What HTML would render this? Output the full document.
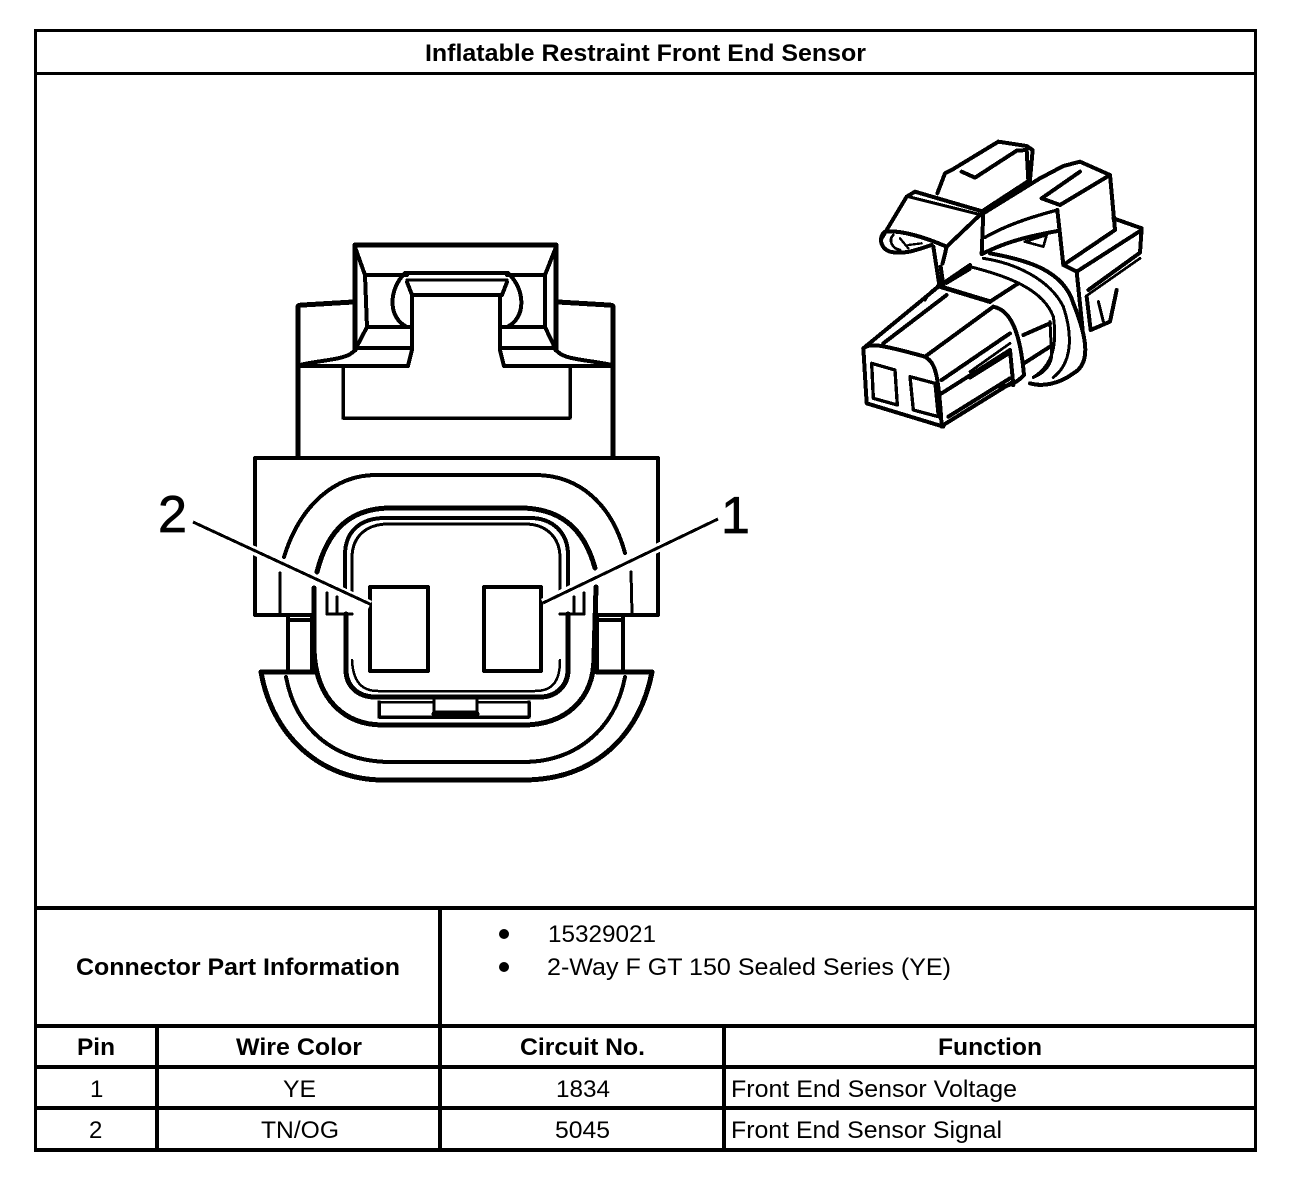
<!DOCTYPE html>
<html>
<head>
<meta charset="utf-8">
<style>
html,body{margin:0;padding:0;background:#fff}
svg{display:block}
text{font-family:"Liberation Sans",Arial,sans-serif;fill:#000}
.b{font-weight:bold;font-size:24px}
.r{font-size:24px}
</style>
</head>
<body>
<svg width="1312" height="1182" viewBox="0 0 1312 1182" xmlns="http://www.w3.org/2000/svg">
<rect width="1312" height="1182" fill="#fff"/>

<!-- table frame -->
<g fill="#000">
<rect x="34" y="29" width="1223" height="3"/>
<rect x="34" y="29" width="3" height="1123"/>
<rect x="1254" y="29" width="3" height="1123"/>
<rect x="34" y="72" width="1223" height="3"/>
<rect x="34" y="906" width="1223" height="4"/>
<rect x="34" y="1024" width="1223" height="4"/>
<rect x="34" y="1065" width="1223" height="4"/>
<rect x="34" y="1106" width="1223" height="4"/>
<rect x="34" y="1148" width="1223" height="4"/>
<rect x="155" y="1026" width="4" height="124"/>
<rect x="438" y="908" width="4" height="242"/>
<rect x="722" y="1026" width="4" height="124"/>
<circle cx="504" cy="934" r="5"/>
<circle cx="504" cy="967" r="5"/>
</g>

<!-- table text -->
<text class="b" x="425" y="61" textLength="441" lengthAdjust="spacingAndGlyphs">Inflatable Restraint Front End Sensor</text>
<text class="b" x="76" y="975" textLength="324" lengthAdjust="spacingAndGlyphs">Connector Part Information</text>
<text class="r" x="548" y="942" textLength="108" lengthAdjust="spacingAndGlyphs">15329021</text>
<text class="r" x="547" y="975" textLength="404" lengthAdjust="spacingAndGlyphs">2-Way F GT 150 Sealed Series (YE)</text>
<text class="b" x="77" y="1055" textLength="38" lengthAdjust="spacingAndGlyphs">Pin</text>
<text class="b" x="236" y="1055" textLength="126" lengthAdjust="spacingAndGlyphs">Wire Color</text>
<text class="b" x="520" y="1055" textLength="125" lengthAdjust="spacingAndGlyphs">Circuit No.</text>
<text class="b" x="938" y="1055" textLength="104" lengthAdjust="spacingAndGlyphs">Function</text>
<text class="r" x="90" y="1097">1</text>
<text class="r" x="283" y="1097" textLength="33" lengthAdjust="spacingAndGlyphs">YE</text>
<text class="r" x="556" y="1097" textLength="54" lengthAdjust="spacingAndGlyphs">1834</text>
<text class="r" x="731" y="1097" textLength="286" lengthAdjust="spacingAndGlyphs">Front End Sensor Voltage</text>
<text class="r" x="89" y="1138">2</text>
<text class="r" x="261" y="1138" textLength="78" lengthAdjust="spacingAndGlyphs">TN/OG</text>
<text class="r" x="555" y="1138" textLength="55" lengthAdjust="spacingAndGlyphs">5045</text>
<text class="r" x="731" y="1138" textLength="271" lengthAdjust="spacingAndGlyphs">Front End Sensor Signal</text>

<!-- main connector: upper latch -->
<g fill="none" stroke="#000" stroke-width="4" stroke-linejoin="round" stroke-linecap="round" shape-rendering="crispEdges">
<path d="M355,350 L355,245 L556,245 L556,350" stroke-width="5"/>
<path d="M298,455 L298,307 Q298,305 303,305 L353,302" stroke-width="5"/>
<path d="M613,455 L613,307 Q613,305 608,305 L558,302" stroke-width="5"/>
<path d="M355,247 L365,275 L367,327 L355,350"/>
<path d="M556,247 L545,275 L545,327 L556,350"/>
<path d="M367,275 L407,275 M507,275 L545,275"/>
<path d="M405,273 L508,273"/>
<path d="M407,280 L507,280" stroke-width="3"/>
<path d="M407,282 L412,295 L502,295 L507,282" stroke-width="4"/>
<path d="M412,295 L412,350 L408,366 L300,366"/>
<path d="M500,295 L500,350 L504,366 L613,366"/>
<path d="M405,273 C388,290 388,318 407,327"/>
<path d="M508,273 C526,290 526,318 507,327"/>
<path d="M367,327 L410,327 M503,327 L545,327"/>
<path d="M355,348 L410,348 M503,348 L556,348"/>
<path d="M353,352 C345,360 320,360 300,365"/>
<path d="M558,352 C566,360 590,360 612,365"/>
<path d="M343,366 L343,418 L570,418 L570,366" stroke-width="3.5"/>

<!-- main connector: body -->
<path d="M255,458 L658,458" stroke-width="4"/>
<path d="M255,458 L255,615 L312,615" stroke-width="4"/>
<path d="M658,458 L658,615 L597,615" stroke-width="4"/>

<path d="M284,557 C300,505 335,475 376,475 L535,475 C580,475 612,505 625,553" stroke-width="4"/>
<path d="M280,573 L280,613 M631,572 L632,613" stroke-width="3"/>
<path d="M317,572 C328,528 352,508 391,508 L520,508 C560,508 584,528 595,568" stroke-width="5"/>
<path d="M314,588 L314,650 C316,700 345,725 383,725 L523,725 C565,725 594,700 594,657 L596,587" stroke-width="5"/>

<!-- seal -->
<path d="M345,592 L345,555 C345,530 362,518 385,518 L530,518 C552,518 568,532 568,555 L568,592" stroke-width="4"/>
<path d="M352,592 L352,558 C352,535 368,524 388,524 L525,524 C546,524 560,537 560,558 L560,592" stroke-width="3"/>
<path d="M346,614 L346,670 C346,686 358,697 375,697 L540,697 C556,697 568,686 568,670 L568,614" stroke-width="5"/>
<path d="M352,660 C353,682 362,691 378,691 L535,691 C552,691 560,682 560,660" stroke-width="2.5"/>

<!-- notches -->
<path d="M327,593 L327,614 L352,614 M337,597 L337,612" stroke-width="3"/>
<path d="M584,593 L584,614 L560,614 M574,597 L574,612" stroke-width="3"/>

<!-- legs -->
<path d="M288,617 L288,671 M312,617 L312,671 M290,620 L312,620" stroke-width="4"/>
<path d="M597,617 L597,671 M623,617 L623,671 M597,620 L623,620" stroke-width="4"/>
<path d="M261,672 L314,672 M597,672 L652,672" stroke-width="5"/>

<!-- bottom shell -->
<path d="M261,672 C272,735 320,780 383,780 L523,780 C595,780 640,735 652,672" stroke-width="5"/>
<path d="M286,677 C296,730 335,762 391,762 L523,762 C575,762 615,730 625,677" stroke-width="4"/>

<!-- key -->
<path d="M379,702 L379,717 L529,717 L529,702" stroke-width="3.5"/>
<path d="M379,702 L434,702 M477,702 L529,702" stroke-width="2.5"/>
<path d="M434,698 L434,712 L477,712 L477,698" stroke-width="3"/>
<path d="M434,714 L477,714" stroke-width="5"/>

<!-- pins -->
<rect x="370" y="587" width="58" height="84" fill="#fff" stroke-width="4"/>
<rect x="484" y="587" width="57" height="84" fill="#fff" stroke-width="4"/>
</g>

<!-- leaders -->
<g fill="none" stroke-linecap="butt" shape-rendering="crispEdges">
<path d="M193,522 L370,605 M718,519 L543,603" stroke="#fff" stroke-width="9"/>
<path d="M193,522 L372,605 M718,519 L543,603" stroke="#000" stroke-width="3"/>
</g>
<rect x="372" y="589" width="54" height="80" fill="#fff"/>
<rect x="486" y="589" width="53" height="80" fill="#fff"/>
<text x="158" y="532" font-size="52" textLength="29" lengthAdjust="spacingAndGlyphs" stroke="#000" stroke-width="0.7">2</text>
<text x="721" y="533" font-size="52" stroke="#000" stroke-width="0.7">1</text>

<!-- isometric connector -->
<g transform="translate(850,130) scale(0.33333)" fill="none" stroke="#000" stroke-width="12" stroke-linejoin="round" stroke-linecap="round" shape-rendering="crispEdges">
<path d="M262,190 L285,130 L305,120 L445,35 L530,48 L548,60 L540,150 L402,240"/>
<path d="M335,125 L375,143 L500,62 L530,60"/>
<path d="M530,60 L535,150"/>
<path d="M95,325 L170,200 L195,185 L400,245 L290,350 L278,400"/>
<path d="M175,200 L395,255" stroke-width="9"/>
<path d="M105,305 C150,300 220,320 290,350"/>
<path d="M105,305 C85,320 90,355 120,365 C160,375 200,360 245,345"/>
<path d="M130,315 C115,330 125,355 150,360" stroke-width="8"/>
<path d="M150,325 L175,355 M175,345 L215,340" stroke-width="7"/>
<path d="M400,245 L395,372"/>
<path d="M250,350 L268,465 M272,410 L280,465"/>
<path d="M400,250 L570,145 L640,108 L690,95 L780,135 L795,300 L640,405 L622,240"/>
<path d="M575,205 L690,125 M575,205 L630,225 L780,135"/>
<path d="M405,322 C470,285 540,262 622,240" stroke-width="10"/>
<path d="M400,370 C470,335 530,320 628,302"/>
<path d="M525,335 L590,315 L580,350 Z" stroke-width="8"/>
<path d="M790,265 L875,295 L870,368 L715,480"/>
<path d="M640,405 L680,425 L875,300"/>
<path d="M680,425 L698,600"/>
<path d="M710,497 L870,385" stroke-width="8"/>
<path d="M710,500 L722,600 L780,575 L800,480"/>
<path d="M745,515 L760,575" stroke-width="9"/>
<path d="M420,370 C530,390 640,420 670,520 C710,620 725,700 670,730 C630,760 580,772 540,760"/>
<path d="M400,385 C500,400 600,450 640,530 C670,620 665,700 610,742" stroke-width="9"/>
<path d="M360,410 C480,440 580,480 610,560 C622,640 610,705 550,742" stroke-width="9"/>
<path d="M265,468 L420,515" stroke-width="14"/>
<path d="M40,655 L265,470 L360,405"/>
<path d="M420,515 L505,460"/>
<path d="M225,510 C235,490 250,478 265,468 M290,460 L360,418" stroke-width="9"/>
<path d="M40,655 L50,820 L280,890"/>
<path d="M40,655 C60,640 80,640 225,680 C255,700 265,720 275,890"/>
<path d="M100,640 L290,495"/>
<path d="M225,680 L430,530 C480,540 510,600 522,735 C500,760 470,770 450,770"/>
<path d="M275,750 L480,610 M275,790 L480,660 M280,885 L490,755 M295,860 L480,745"/>
<path d="M360,725 L480,640 M360,745 L480,670" stroke-width="8"/>
<path d="M480,660 L490,765"/>
<path d="M520,615 L600,580 M522,700 L600,650"/>
<path d="M600,575 L605,680 C600,710 580,730 550,742" stroke-width="9"/>
<path d="M65,700 L135,720 L142,825 L70,805 Z" stroke-width="10"/>
<path d="M180,740 L255,760 L265,860 L190,840 Z" stroke-width="10"/>
</g>
</svg>
</body>
</html>
